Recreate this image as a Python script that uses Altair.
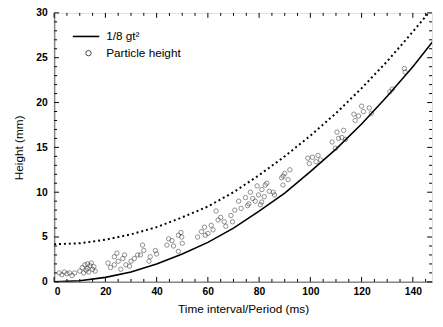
import altair as alt
import pandas as pd

# Curves (Time in ms, Height in mm)
curve_t = [0, 10, 20, 30, 40, 50, 60, 70, 80, 90, 100, 110, 120, 130, 140, 150]
solid_h = [0, 0.12, 0.5, 1.1, 2.0, 3.1, 4.4, 6.0, 7.9, 9.9, 12.3, 14.8, 17.6, 20.7, 24.0, 27.6]
dotted_h = [4.2, 4.3, 4.7, 5.3, 6.1, 7.2, 8.4, 10.0, 11.9, 14.0, 16.3, 18.8, 21.6, 24.6, 27.9, 31.3]

# Particle heights
pt_t = [2, 3, 4, 5, 6, 7, 8,
        10, 11, 11.5, 12, 12.5, 13, 13, 13.5, 14, 14.5, 15, 15.5, 16,
        21, 22, 23.5, 23.5, 24.5, 25, 26, 26.8, 27.5, 28, 29.4, 30, 31.3, 32.6, 33.7, 34.5, 35, 37, 37.5,
        39.5, 40, 44, 44.7, 46, 46.6, 48.5, 48.5, 49.5, 49.8, 50,
        56, 57.5, 58.7, 59, 60, 61.3, 62, 63.2, 64, 65, 66.4, 67, 69, 69.6, 70.5,
        72, 73, 74.7, 75.5, 76, 76.6, 77.5, 78.5, 79.2, 79.8, 80.5, 81, 81.1, 82, 82.4, 83, 84, 85.5, 86,
        88.8, 89.3, 89.4, 90, 91.3, 92,
        99, 99.6, 100.8, 102.2, 103, 104, 108.5, 109.8, 110.4, 111, 112.3, 113, 113.7,
        117, 117.5, 118.8, 120, 120.7, 123, 123.8, 131, 132, 136.7, 137]
pt_h = [1.0, 0.8, 1.1, 0.9, 1.0, 0.7, 1.0,
        1.2, 1.6, 1.0, 1.9, 1.3, 2.0, 1.5, 1.1, 1.8, 2.1, 1.4, 1.7, 1.2,
        2.1, 1.6, 2.8, 1.9, 3.2, 2.3, 1.4, 2.6, 3.0, 1.9, 1.75, 2.3, 2.6, 3.0, 3.0, 4.1, 3.5, 2.3, 2.8,
        3.5, 3.1, 4.1, 4.8, 4.6, 4.0, 5.2, 3.4, 5.5, 5.0, 4.3,
        5.0, 5.6, 6.1, 5.2, 5.4, 6.3, 5.8, 7.9, 6.9, 7.2, 6.7, 6.2, 7.4, 6.7, 8.0,
        9.0, 8.2, 9.4, 8.5, 8.7, 10.0, 9.3, 9.0, 10.7, 9.7, 8.6, 8.9, 10.3, 9.5, 10.8, 11.0, 10.1, 10.0, 9.7,
        11.6, 10.8, 11.8, 12.1, 11.4, 12.5,
        13.8, 13.2, 13.9, 13.4, 14.1, 13.6, 15.6, 14.9, 16.7, 16.0, 16.1, 16.9, 15.9,
        18.7, 18.0, 18.5, 19.6, 19.0, 19.4, 18.8, 21.2, 21.5, 23.8, 23.4]

x_major = [0, 20, 40, 60, 80, 100, 120, 140]
x_minor = [5, 10, 15, 25, 30, 35, 45, 50, 55, 65, 70, 75, 85, 90, 95, 105, 110, 115, 125, 130, 135, 145]
y_major = [0, 5, 10, 15, 20, 25, 30]
y_minor = [v for v in range(1, 30) if v % 5 != 0]

W, H = 385, 274
XMAX = 147.5
FONT = "Liberation Sans"

curves = pd.DataFrame({"t": curve_t, "solid": solid_h, "dotted": dotted_h})
points = pd.DataFrame({"t": pt_t, "h": pt_h})

xs = alt.Scale(domain=[0, XMAX], nice=False, zero=False)
ys = alt.Scale(domain=[0, 30], nice=False)

x_axis = alt.Axis(values=x_major, ticks=False, grid=False, domain=True, domainWidth=1.5,
                  labelFont=FONT, labelFontSize=10.5, labelFontWeight="bold", labelColor="black",
                  labelPadding=5, title="Time interval/Period (ms)", titleFont=FONT,
                  titleFontSize=12, titleFontWeight="normal", titleColor="black", titlePadding=7)
y_axis = alt.Axis(values=y_major, ticks=False, grid=False, domain=True, domainWidth=1.5,
                  labelFont=FONT, labelFontSize=10.5, labelFontWeight="bold", labelColor="black",
                  labelPadding=7, title="Height (mm)", titleFont=FONT, titleFontSize=12,
                  titleFontWeight="normal", titleColor="black", titlePadding=11)

base = alt.Chart(curves)

solid = base.mark_line(color="black", strokeWidth=1.6, clip=True).encode(
    x=alt.X("t:Q", scale=xs, axis=x_axis),
    y=alt.Y("solid:Q", scale=ys, axis=y_axis),
)
dotted = base.mark_line(color="black", strokeWidth=2, strokeDash=[2, 3], clip=True).encode(
    x=alt.X("t:Q", scale=xs),
    y=alt.Y("dotted:Q", scale=ys),
)
pts = alt.Chart(points).mark_point(shape="circle", size=20, filled=False, color="#222",
                                    strokeWidth=0.7, clip=True).encode(
    x=alt.X("t:Q", scale=xs),
    y=alt.Y("h:Q", scale=ys),
)

def xticks(vals, y0, y1):
    return alt.Chart(pd.DataFrame({"v": vals})).mark_rule(color="black", strokeWidth=1).encode(
        x=alt.X("v:Q", scale=xs), y=alt.value(y0), y2=alt.value(y1))

def yticks(vals, x0, x1):
    return alt.Chart(pd.DataFrame({"v": vals})).mark_rule(color="black", strokeWidth=1).encode(
        y=alt.Y("v:Q", scale=ys), x=alt.value(x0), x2=alt.value(x1))

ticks = [
    xticks(x_major, H, H - 5), xticks(x_minor, H, H - 3),
    xticks(x_major, 0, 5), xticks(x_minor, 0, 3),
    yticks(y_major, 0, 5), yticks(y_minor, 0, 3),
    yticks(y_major, W, W - 5), yticks(y_minor, W, W - 3),
]

# legend
leg_line = alt.Chart(pd.DataFrame({"a": [0]})).mark_rule(color="black", strokeWidth=1.6).encode(
    x=alt.value(19), x2=alt.value(46), y=alt.value(24))
leg_circ = alt.Chart(pd.DataFrame({"a": [0]})).mark_point(shape="circle", size=30, filled=False,
                                                           color="black", strokeWidth=1).encode(
    x=alt.value(35), y=alt.value(41))
leg_text = alt.Chart(pd.DataFrame({"label": ["1/8 gt²", "Particle height"], "py": [24, 41]})).mark_text(
    align="left", baseline="middle", font=FONT, fontSize=12, color="black").encode(
    x=alt.value(53), y=alt.Y("py:Q", scale=None), text="label:N")

chart = alt.layer(dotted, solid, pts, *ticks, leg_line, leg_circ, leg_text).properties(
    width=W, height=H,
    autosize=alt.AutoSizeParams(type="none"),
    padding={"left": 47, "top": 2, "right": 3, "bottom": 43},
).configure_view(stroke="black", strokeWidth=1.5).configure(background="white")

chart.save("out.html", embed_options={"renderer": "svg", "actions": False})
